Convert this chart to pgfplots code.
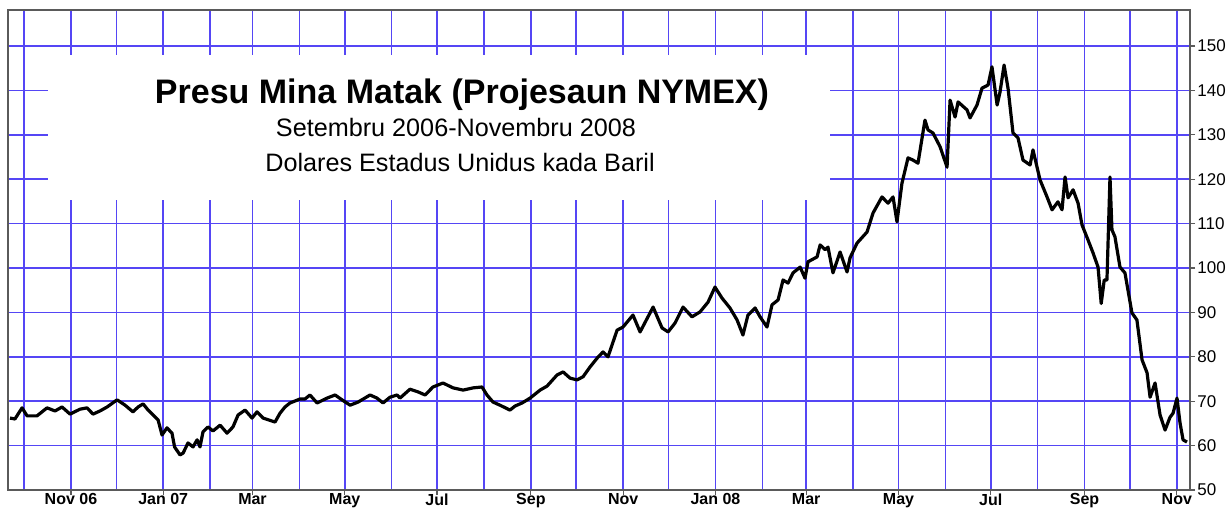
\documentclass[border=0pt]{standalone}
\usepackage{pgfplots}
\pgfplotsset{compat=1.18}
\usepackage{fontspec}
\setmainfont{Liberation Sans}
\definecolor{gridblue}{RGB}{85,70,245}
\definecolor{framegray}{RGB}{90,90,90}
\pgfplotstableread{
day value
-9.3 66.2
-6 66.0
-1.3 68.5
2 66.7
8.6 66.7
15.2 68.5
20.5 67.8
25.1 68.7
30.4 67.1
37 68.2
41.6 68.5
45.6 67.1
50.2 67.8
54.9 68.7
61.5 70.3
66.8 69.1
72 67.6
75.4 68.7
78.7 69.4
82 68.0
85.3 66.9
88.6 65.8
91.2 62.4
94.5 64.0
97.8 62.8
99.5 59.7
103.1 57.9
105.1 58.3
108.4 60.6
111.7 59.7
114.4 61.3
116.3 59.7
118.3 63.1
121.6 64.2
124.9 63.3
129.6 64.6
134.2 62.8
138.1 64.2
141.5 66.9
146.1 68.0
150.7 66.2
154 67.6
158 66.2
165.9 65.3
169.2 67.3
172.5 68.7
175.8 69.6
182.4 70.5
185.7 70.5
189 71.4
193.7 69.6
200.3 70.7
205.6 71.4
210.2 70.3
215.5 69.1
220.8 69.8
228.7 71.4
233.3 70.7
237.3 69.6
241.9 70.9
246.6 71.4
248.5 70.7
255.1 72.7
260.4 72.1
265.1 71.4
270.3 73.2
276.9 74.1
283.6 73.0
290.2 72.5
296.8 73.0
302.7 73.2
306 71.4
310 69.8
314.6 69.1
321.2 68.0
324.5 68.9
329.2 69.6
334.5 70.7
341.1 72.5
345.7 73.4
352.3 75.9
356.3 76.6
360.9 75.2
365.5 74.8
369.5 75.5
374.1 77.7
378.8 79.7
382.7 81.1
386 80.0
388.7 82.7
392 86.0
395.9 86.7
402.5 89.4
407.2 85.6
415.8 91.2
421.7 86.5
425.7 85.6
430.3 87.6
435.6 91.2
441.5 89.0
446.8 90.1
452.1 92.3
456.7 95.7
461.4 93.2
466.6 91.0
471.3 88.3
475.2 84.9
478.5 89.4
483.2 91.0
486.5 89.0
491.1 86.7
494.4 91.7
498.4 92.8
501.7 97.3
505 96.6
508.3 98.9
513 100.2
516.2 97.7
518.2 101.4
524.2 102.5
526.2 105.2
529.5 104.1
531.4 104.7
534.7 98.9
539.4 103.6
544 99.1
546 102.3
550.6 105.6
557.2 108.1
561.2 112.4
567.1 116.0
571.1 114.6
574.4 116.0
577 110.4
580.3 119.1
584.3 124.8
587.6 124.3
590.9 123.6
595.5 133.3
597.5 131.1
600.8 130.4
605.5 127.3
610.1 122.7
612.1 137.8
615.4 134.0
617.4 137.4
623.3 135.6
625.3 133.8
629.9 136.7
633.2 140.5
637.2 141.2
639.8 145.3
643.2 136.7
645.1 139.6
647.8 145.7
650.4 140.5
653.7 130.4
657 129.3
660.3 124.3
665 123.2
666.9 126.6
671.6 119.8
676.2 116.0
679.5 113.1
683.4 114.9
686.1 113.1
688.1 120.5
690.1 115.8
693.4 117.6
696.7 114.6
699.3 109.7
703.3 106.3
706.6 103.4
709.9 100.2
712 92.0
714 97.3
715.8 97.3
717.8 120.5
719.1 108.6
721.1 107.0
724.4 100.2
727.7 98.9
732.3 89.9
735.6 88.3
739 79.3
742.3 76.4
744.3 70.9
747.6 74.1
750.9 66.9
754.2 63.5
757.5 66.4
759.5 67.3
762.1 70.7
764.1 65.1
766.1 61.3
768.7 60.8
}\oil
\begin{document}
\begin{tikzpicture}[x=1pt,y=1pt]
\useasboundingbox (0,0) rectangle (613.5,255.5);
\begin{axis}[at={(4pt,10.5pt)}, anchor=south west, scale only axis,
  width=591pt, height=240pt,
  xmin=-10.6, xmax=770.7, ymin=50, ymax=158.1,
  xtick={31,92,151,212,273,335,396,457,517,578,639,701,762},
  xticklabels={Nov 06,Jan 07,Mar,May,Jul,Sep,Nov,Jan 08,Mar,May,Jul,Sep,Nov},
  minor xtick={0,61,123,182,243,304,365,426,488,548,609,670,731},
  ytick={50,60,...,150},
  grid=both,
  major grid style={gridblue, line width=0.75pt},
  minor grid style={gridblue, line width=0.75pt},
  axis line style={framegray, line width=1pt},
  tick align=outside, xtick pos=bottom, ytick pos=right, yticklabel pos=right,
  major tick length=2.5pt, minor tick length=0pt,
  tick style={framegray, line width=0.6pt},
  xticklabel style={font=\bfseries\fontsize{8}{9}\selectfont, inner sep=0.5pt, yshift=1.3pt},
  yticklabel style={font=\fontsize{8.5}{10}\selectfont, inner sep=1pt},
  /pgf/number format/assume math mode=true,
]
\fill[white] (axis cs:15.9,148.0) rectangle (axis cs:532.8,115.3);
\addplot[black, line width=1.6pt, line join=round] table[x=day,y=value] {\oil};
\end{axis}
\node[font=\bfseries\fontsize{17}{19}\selectfont] at (231,208) {Presu Mina Matak (Projesaun NYMEX)};
\node[font=\fontsize{12.6}{14}\selectfont] at (228,192) {Setembru 2006-Novembru 2008};
\node[font=\fontsize{12.6}{14}\selectfont] at (230,174.5) {Dolares Estadus Unidus kada Baril};
\end{tikzpicture}
\end{document}
